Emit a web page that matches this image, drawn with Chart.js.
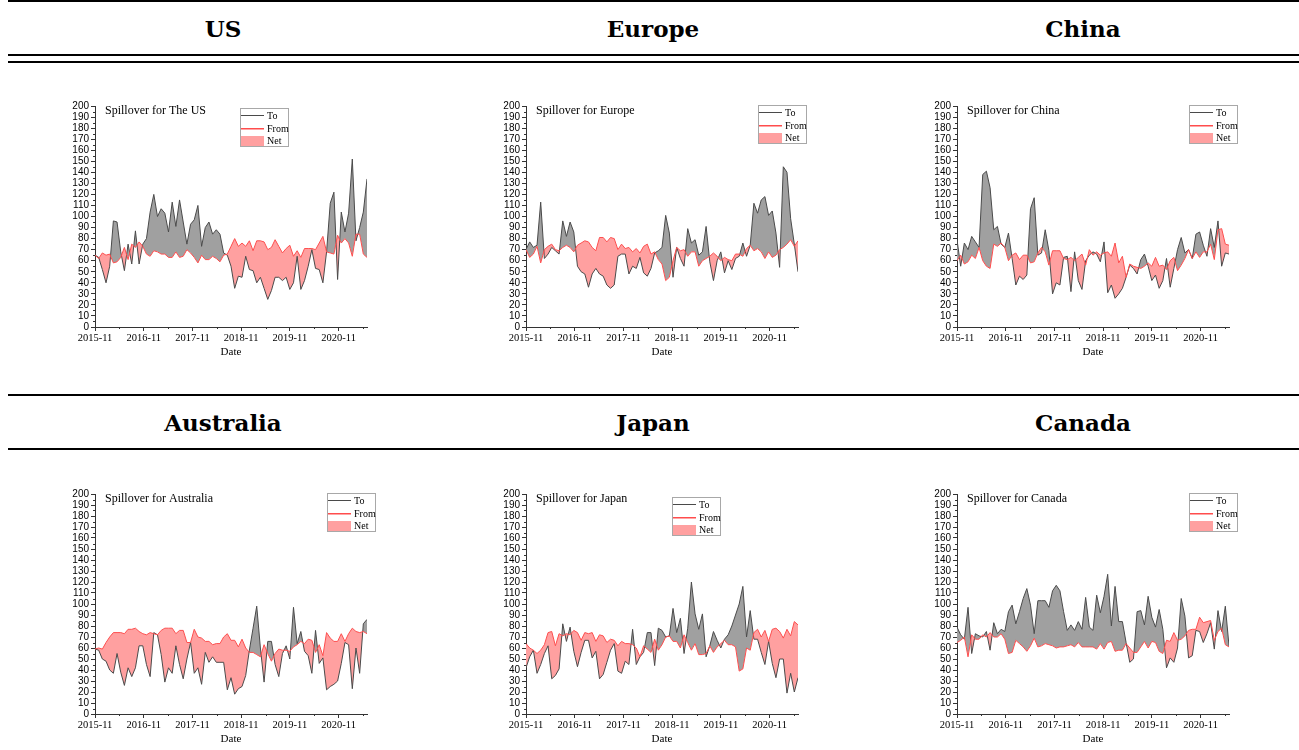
<!DOCTYPE html>
<html>
<head>
<meta charset="utf-8">
<script src="https://cdn.jsdelivr.net/npm/chart.js@4.4.0/dist/chart.umd.min.js"></script>
<style>
  body { margin: 0; background: #fff; width: 1299px; height: 750px; overflow: hidden; position: relative; }
  .rule { position: absolute; left: 8px; right: 0; height: 2px; background: #000; }
  .head { position: absolute; width: 430px; text-align: center; font: bold 23px "DejaVu Serif", serif; line-height: 30px; color: #000; }
  canvas { position: absolute; }
</style>
</head>
<body>
<div class="rule" style="top:0"></div>
<div class="rule" style="top:54px"></div>
<div class="rule" style="top:61px"></div>
<div class="rule" style="top:394px"></div>
<div class="rule" style="top:448px"></div>

<div class="head" style="left:8px;top:14px">US</div>
<div class="head" style="left:438px;top:14px">Europe</div>
<div class="head" style="left:868px;top:14px">China</div>
<div class="head" style="left:8px;top:408px">Australia</div>
<div class="head" style="left:438px;top:408px">Japan</div>
<div class="head" style="left:868px;top:408px">Canada</div>

<canvas id="c-us" width="324" height="275" style="left:59px;top:90px"></canvas>
<canvas id="c-europe" width="324" height="275" style="left:490px;top:90px"></canvas>
<canvas id="c-china" width="324" height="275" style="left:921px;top:90px"></canvas>
<canvas id="c-australia" width="324" height="272" style="left:59px;top:478px"></canvas>
<canvas id="c-japan" width="324" height="272" style="left:490px;top:478px"></canvas>
<canvas id="c-canada" width="324" height="272" style="left:921px;top:478px"></canvas>

<script>
// months since 2015-11; the last observation sits at 2021-06
const LAST_MONTH = 67;
const xTickLabels = ["2015-11", "2016-11", "2017-11", "2018-11", "2019-11", "2020-11"];

const usTo = [65, 63, 52, 40, 55, 96, 95, 68, 51, 75, 57, 87, 57, 75, 80, 104, 120, 100, 107, 103,
  86, 113, 91, 115, 95, 75, 93, 97, 110, 73, 90, 95, 84, 88, 84, 67, 65, 55, 35, 46,
  45, 64, 52, 51, 40, 45, 35, 25, 33, 45, 45, 42, 45, 34, 40, 64, 34, 42, 55, 70,
  53, 52, 40, 68, 112, 122, 43, 104, 86, 103, 152, 78, 90, 104, 134];
const usFrom = [65, 62, 67, 65, 66, 58, 59, 63, 72, 61, 75, 72, 77, 73, 66, 64, 69, 68, 66, 66,
  63, 63, 68, 63, 64, 70, 67, 63, 58, 65, 61, 61, 64, 62, 59, 65, 66, 73, 80, 73,
  76, 73, 78, 69, 78, 78, 77, 70, 72, 79, 73, 67, 71, 74, 64, 69, 63, 71, 71, 71,
  70, 76, 82, 68, 67, 66, 83, 76, 80, 76, 64, 84, 84, 66, 63];

const europeTo = [70, 77, 72, 74, 113, 62, 66, 72, 69, 66, 96, 82, 95, 86, 55, 50, 48, 36, 48, 53,
  48, 46, 38, 35, 38, 64, 66, 66, 48, 55, 53, 63, 49, 46, 53, 67, 69, 72, 101, 85,
  45, 72, 62, 55, 89, 76, 79, 65, 68, 91, 59, 42, 60, 68, 49, 60, 52, 62, 64, 76,
  64, 74, 112, 103, 115, 118, 101, 105, 85, 54, 145, 140, 98, 75, 50];
const europeFrom = [70, 63, 66, 73, 58, 70, 73, 75, 70, 69, 72, 74, 72, 68, 74, 76, 78, 77, 72, 69,
  81, 81, 77, 81, 80, 70, 75, 71, 72, 68, 71, 67, 73, 75, 66, 68, 61, 57, 42, 45,
  60, 72, 69, 70, 64, 68, 68, 55, 60, 62, 64, 67, 64, 60, 63, 61, 60, 66, 66, 64,
  71, 74, 69, 71, 68, 62, 68, 63, 65, 70, 72, 75, 79, 73, 78];

const chinaTo = [79, 55, 76, 70, 82, 77, 72, 138, 141, 126, 88, 91, 75, 72, 85, 62, 38, 46, 43, 47,
  107, 117, 65, 67, 88, 69, 30, 40, 38, 63, 64, 32, 68, 42, 34, 60, 65, 68, 66, 59,
  77, 31, 38, 26, 30, 35, 45, 56, 53, 48, 61, 66, 55, 42, 47, 35, 42, 62, 36, 53,
  70, 81, 67, 70, 62, 84, 86, 74, 64, 89, 72, 96, 55, 67, 66];
const chinaFrom = [60, 65, 57, 59, 65, 62, 72, 60, 55, 53, 75, 73, 76, 72, 60, 65, 67, 61, 65, 65,
  58, 59, 67, 72, 68, 56, 69, 69, 69, 62, 61, 63, 60, 63, 66, 56, 70, 65, 68, 65,
  67, 68, 64, 76, 58, 64, 45, 57, 55, 54, 53, 55, 58, 55, 63, 55, 56, 52, 60, 63,
  51, 56, 62, 70, 62, 68, 63, 68, 68, 75, 61, 88, 89, 75, 74];

const australiaTo = [59, 58, 50, 48, 40, 37, 55, 38, 26, 42, 34, 42, 62, 62, 45, 34, 74, 72, 54, 29,
  42, 37, 62, 45, 32, 50, 65, 37, 42, 27, 56, 47, 52, 47, 47, 47, 22, 33, 18, 23,
  25, 35, 58, 78, 98, 60, 29, 66, 66, 45, 34, 55, 62, 50, 97, 64, 75, 57, 53, 37,
  76, 46, 51, 22, 25, 27, 30, 46, 65, 63, 23, 60, 37, 82, 86];
const australiaFrom = [59, 60, 59, 65, 70, 74, 74, 74, 73, 77, 77, 78, 75, 73, 72, 74, 73, 72, 76, 78,
  78, 78, 73, 76, 76, 65, 65, 77, 70, 69, 66, 66, 63, 64, 64, 70, 73, 67, 67, 61,
  68, 60, 56, 56, 54, 52, 63, 55, 48, 55, 59, 58, 58, 57, 61, 63, 66, 64, 68, 67,
  56, 63, 53, 74, 69, 66, 66, 73, 66, 73, 78, 75, 74, 75, 73];

const japanTo = [42, 52, 58, 37, 45, 55, 62, 32, 35, 41, 82, 66, 79, 57, 43, 56, 67, 67, 51, 57,
  32, 36, 47, 58, 64, 39, 37, 48, 45, 77, 45, 52, 56, 74, 74, 44, 78, 76, 70, 71,
  96, 74, 87, 55, 78, 120, 91, 77, 91, 52, 62, 75, 67, 60, 68, 72, 80, 90, 100, 116,
  70, 94, 68, 68, 56, 45, 66, 46, 33, 50, 50, 19, 37, 20, 33];
const japanFrom = [64, 60, 58, 55, 58, 63, 74, 75, 62, 73, 71, 73, 72, 76, 74, 67, 74, 73, 74, 66,
  72, 71, 65, 68, 67, 62, 66, 64, 64, 63, 60, 52, 62, 59, 56, 68, 58, 63, 70, 71,
  66, 66, 60, 72, 65, 58, 64, 54, 54, 55, 62, 56, 61, 64, 67, 63, 63, 61, 39, 41,
  60, 58, 74, 77, 70, 76, 66, 77, 78, 75, 69, 77, 71, 84, 81];

const canadaTo = [79, 72, 68, 97, 55, 73, 71, 70, 75, 58, 83, 73, 77, 75, 93, 99, 82, 93, 105, 114,
  99, 73, 103, 103, 103, 97, 112, 117, 112, 93, 76, 81, 76, 84, 77, 106, 79, 76, 108, 92,
  107, 127, 80, 116, 84, 84, 65, 47, 50, 93, 94, 81, 107, 88, 79, 95, 77, 42, 51, 47,
  60, 105, 89, 51, 53, 76, 75, 65, 73, 83, 59, 94, 75, 98, 62];
const canadaFrom = [65, 67, 70, 52, 72, 68, 68, 72, 70, 74, 70, 70, 73, 68, 55, 56, 67, 64, 61, 57,
  62, 69, 61, 62, 64, 63, 62, 60, 61, 61, 62, 63, 61, 65, 61, 61, 61, 61, 59, 64,
  59, 65, 66, 57, 58, 58, 64, 60, 56, 56, 61, 66, 60, 66, 65, 57, 55, 67, 66, 74,
  67, 68, 71, 76, 77, 77, 88, 83, 84, 85, 67, 75, 78, 63, 61];

const AXIS_COLOR = "#333";
const TO_COLOR = "#4a4a4a";
const FROM_COLOR = "#ff4d4d";
const ABOVE_FILL = "rgb(160, 160, 160)";
const BELOW_FILL = "rgb(255, 160, 160)";

const spilloverPlugin = {
  id: "spillover",
  afterDraw(chart, args, opts) {
    const { ctx, chartArea: area, scales } = chart;
    ctx.save();

    // minor ticks
    ctx.strokeStyle = AXIS_COLOR;
    ctx.lineWidth = 1;
    ctx.beginPath();
    for (let v = 5; v < 200; v += 10) {
      const py = Math.round(scales.y.getPixelForValue(v)) + 0.5;
      ctx.moveTo(area.left - 2, py);
      ctx.lineTo(area.left, py);
    }
    for (let m = 6; m < LAST_MONTH; m += 12) {
      const px = Math.round(scales.x.getPixelForValue(m)) + 0.5;
      ctx.moveTo(px, area.bottom);
      ctx.lineTo(px, area.bottom + 2);
    }
    ctx.stroke();

    // caption inside the plot
    ctx.fillStyle = "#000";
    ctx.font = '12px "Liberation Serif"';
    ctx.textAlign = "left";
    ctx.textBaseline = "middle";
    ctx.fillText(opts.caption, area.left + 10, area.top + 5);

    // legend box
    const lx = Math.round(area.left + opts.legendX);
    const ly = Math.round(area.top + opts.legendY);
    ctx.fillStyle = "#fff";
    ctx.fillRect(lx, ly, 49, 39);
    ctx.strokeStyle = "#a8a8a8";
    ctx.lineWidth = 1;
    ctx.strokeRect(lx + 0.5, ly + 0.5, 48, 38);

    ctx.fillStyle = TO_COLOR;
    ctx.fillRect(lx + 1, ly + 7, 23, 1);
    ctx.fillStyle = FROM_COLOR;
    ctx.fillRect(lx + 1, ly + 20, 23, 1.5);
    ctx.fillStyle = BELOW_FILL;
    ctx.fillRect(lx + 1, ly + 28, 23, 10);

    ctx.fillStyle = "#000";
    ctx.font = '10px "Liberation Serif"';
    ctx.fillText("To", lx + 27, ly + 8);
    ctx.fillText("From", lx + 27, ly + 21);
    ctx.fillText("Net", lx + 27, ly + 33);
    ctx.restore();
  },
};

function toPoints(values) {
  return values.map((v, i) => ({ x: (i * LAST_MONTH) / (values.length - 1), y: v }));
}

function makeChart(id, caption, toValues, fromValues, legendX, legendY, axisHeight, titlePad) {
  return new Chart(document.getElementById(id), {
    type: "line",
    data: {
      datasets: [
        {
          label: "To",
          data: toPoints(toValues),
          borderColor: TO_COLOR,
          borderWidth: 1,
          pointRadius: 0,
          tension: 0,
          order: 1,
          fill: { target: 1, above: ABOVE_FILL, below: BELOW_FILL },
        },
        {
          label: "From",
          data: toPoints(fromValues),
          borderColor: FROM_COLOR,
          borderWidth: 1,
          pointRadius: 0,
          tension: 0,
          order: 0,
          fill: false,
        },
      ],
    },
    plugins: [spilloverPlugin],
    options: {
      responsive: false,
      animation: false,
      devicePixelRatio: 1,
      layout: { padding: { top: 16, right: 16, left: 0, bottom: 0 } },
      plugins: {
        legend: { display: false },
        tooltip: { enabled: false },
        spillover: { caption, legendX, legendY },
      },
      scales: {
        x: {
          type: "linear",
          min: 0,
          max: LAST_MONTH,
          border: { color: AXIS_COLOR, width: 1 },
          grid: { drawOnChartArea: false, drawTicks: true, tickLength: 4, color: AXIS_COLOR },
          ticks: {
            stepSize: 12,
            includeBounds: false,
            autoSkip: false,
            maxRotation: 0,
            padding: 1,
            color: "#000",
            font: { family: '"Liberation Serif"', size: 10.5 },
            callback: (v) => xTickLabels[v / 12],
          },
          title: {
            display: true,
            text: "Date",
            color: "#000",
            font: { family: '"Liberation Serif"', size: 11 },
            padding: { top: 0, bottom: titlePad },
          },
          afterFit(scale) {
            scale.height = axisHeight;
          },
        },
        y: {
          min: 0,
          max: 200,
          border: { color: AXIS_COLOR, width: 1 },
          grid: { drawOnChartArea: false, drawTicks: true, tickLength: 4, color: AXIS_COLOR },
          ticks: {
            stepSize: 10,
            autoSkip: false,
            padding: 2,
            color: "#000",
            font: { family: '"Liberation Sans"', size: 10 },
          },
          afterFit(scale) {
            scale.width = 36;
          },
        },
      },
    },
  });
}

makeChart("c-us", "Spillover for The US", usTo, usFrom, 145, 2, 38, 6);
makeChart("c-europe", "Spillover for Europe", europeTo, europeFrom, 232, -1, 38, 6);
makeChart("c-china", "Spillover for China", chinaTo, chinaFrom, 232, -1, 38, 6);
makeChart("c-australia", "Spillover for Australia", australiaTo, australiaFrom, 232, -1, 36, 4);
makeChart("c-japan", "Spillover for Japan", japanTo, japanFrom, 146, 3, 36, 4);
makeChart("c-canada", "Spillover for Canada", canadaTo, canadaFrom, 232, -1, 36, 4);
</script>
</body>
</html>
